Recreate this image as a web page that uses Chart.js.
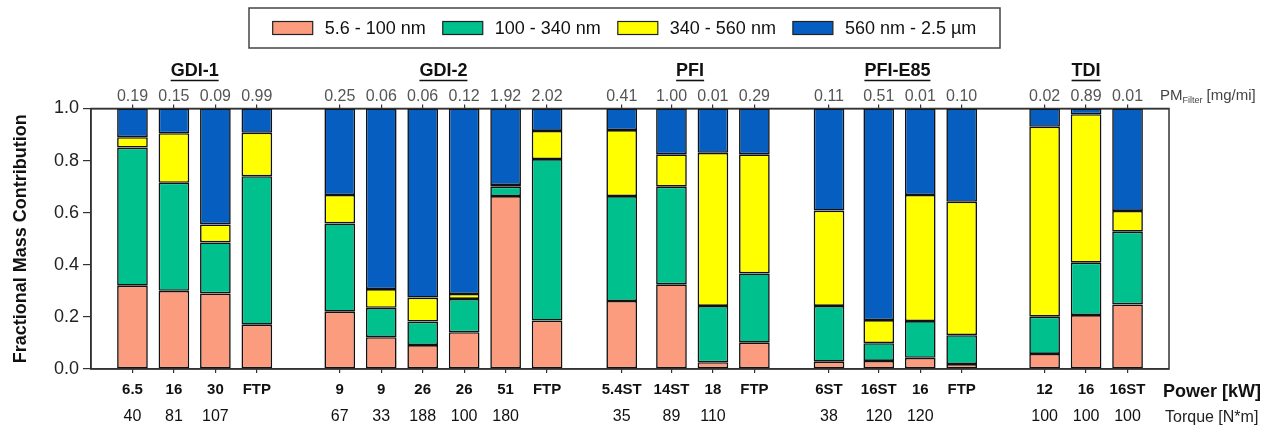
<!DOCTYPE html>
<html>
<head>
<meta charset="utf-8">
<script src="https://cdn.jsdelivr.net/npm/chart.js@4.4.1/dist/chart.umd.min.js"></script>
<style>
  html, body { margin: 0; padding: 0; background: #fff; }
  canvas { display: block; }
</style>
</head>
<body>
<canvas id="c" width="1282" height="428"></canvas>
<script>
// ---- data ----
const groups = ['GDI-1', 'GDI-2', 'PFI', 'PFI-E85', 'TDI'];
const groupSizes = [4, 6, 4, 4, 3];
const positions = [0, 1, 2, 3, 5, 6, 7, 8, 9, 10, 11.8, 13, 14, 15, 16.8, 18, 19, 20, 22, 23, 24];
const powerLabels = ['6.5', '16', '30', 'FTP', '9', '9', '26', '26', '51', 'FTP', '5.4ST', '14ST', '18', 'FTP', '6ST', '16ST', '16', 'FTP', '12', '16', '16ST'];
const torqueLabels = ['40', '81', '107', '', '67', '33', '188', '100', '180', '', '35', '89', '110', '', '38', '120', '120', '', '100', '100', '100'];
const pmFilter = ['0.19', '0.15', '0.09', '0.99', '0.25', '0.06', '0.06', '0.12', '1.92', '2.02', '0.41', '1.00', '0.01', '0.29', '0.11', '0.51', '0.01', '0.10', '0.02', '0.89', '0.01'];
const seriesLabels = ['5.6 - 100 nm', '100 - 340 nm', '340 - 560 nm', '560 nm - 2.5 \u00B5m'];
const ultrafine = [0.32, 0.30, 0.29, 0.17, 0.22, 0.122, 0.092, 0.141, 0.664, 0.186, 0.261, 0.325, 0.026, 0.101, 0.028, 0.031, 0.043, 0.019, 0.058, 0.207, 0.248];
const fine = [0.53, 0.415, 0.196, 0.57, 0.339, 0.113, 0.09, 0.128, 0.036, 0.62, 0.403, 0.375, 0.216, 0.266, 0.214, 0.068, 0.141, 0.111, 0.143, 0.201, 0.279];
const accumulation = [0.04, 0.19, 0.069, 0.167, 0.109, 0.072, 0.092, 0.019, 0.006, 0.108, 0.253, 0.124, 0.588, 0.457, 0.366, 0.089, 0.484, 0.512, 0.729, 0.570, 0.08];
const coarse = [0.11, 0.095, 0.445, 0.093, 0.332, 0.693, 0.726, 0.712, 0.294, 0.086, 0.083, 0.176, 0.17, 0.176, 0.392, 0.812, 0.332, 0.358, 0.07, 0.022, 0.393];
const yTicks = [0, 0.2, 0.4, 0.6, 0.8, 1.0];

// ---- styles ----
const FONT = '"Liberation Sans", Arial, Helvetica, sans-serif';
const colors = ['#FC9C7E', '#00C08E', '#FFFF00', '#065EC0'];
const seriesData = [ultrafine, fine, accumulation, coarse];

const datasets = seriesData.map((arr, k) => ({
  label: seriesLabels[k],
  data: positions.map((x, i) => ({ x: x, y: arr[i] })),
  backgroundColor: colors[k],
  borderColor: '#111',
  borderWidth: 1.6,
  borderSkipped: false,
  barPercentage: 0.74,
  categoryPercentage: 1.0,
  xAxisID: 'x',
  yAxisID: 'y'
}));

const setTicks = (scale) => { scale.ticks = positions.map(v => ({ value: v })); };

const textPlugin = {
  id: 'texts',
  beforeDraw(chart) {
    const ctx = chart.ctx;
    ctx.save();
    ctx.fillStyle = '#fff';
    ctx.fillRect(0, 0, chart.width, chart.height);
    ctx.restore();
  },
  afterDraw(chart) {
    const ctx = chart.ctx;
    const xs = chart.scales.x;
    const area = chart.chartArea;
    ctx.save();
    // frame
    ctx.strokeStyle = '#333';
    ctx.lineWidth = 1.5;
    ctx.strokeRect(area.left, area.top, area.right - area.left, area.bottom - area.top);

    ctx.textAlign = 'center';
    ctx.textBaseline = 'middle';
    // per-bar labels
    positions.forEach((p, i) => {
      const px = xs.getPixelForValue(p);
      ctx.fillStyle = '#555';
      ctx.font = '16px ' + FONT;
      ctx.fillText(pmFilter[i], px, area.top - 12);
      ctx.fillStyle = '#111';
      ctx.font = 'bold 15px ' + FONT;
      ctx.fillText(powerLabels[i], px, area.bottom + 21);
      ctx.font = '16px ' + FONT;
      ctx.fillText(torqueLabels[i], px, area.bottom + 48);
    });
    // group titles
    let start = 0;
    groups.forEach((g, gi) => {
      const members = positions.slice(start, start + groupSizes[gi]);
      start += groupSizes[gi];
      const mean = members.reduce((a, b) => a + b, 0) / members.length;
      const cx = xs.getPixelForValue(mean);
      ctx.font = 'bold 18px ' + FONT;
      ctx.fillStyle = '#111';
      ctx.fillText(g, cx, area.top - 37);
      const w = ctx.measureText(g).width;
      ctx.strokeStyle = '#111';
      ctx.lineWidth = 1.6;
      ctx.beginPath();
      ctx.moveTo(cx - w / 2, area.top - 28);
      ctx.lineTo(cx + w / 2, area.top - 28);
      ctx.stroke();
    });
    // right side labels
    ctx.textAlign = 'left';
    const rx = area.right - 9;
    ctx.fillStyle = '#444';
    ctx.font = '15px ' + FONT;
    ctx.fillText('PM', rx, area.top - 13);
    let wx = rx + ctx.measureText('PM').width;
    ctx.font = '9px ' + FONT;
    ctx.fillText('Filter', wx, area.top - 8);
    wx += ctx.measureText('Filter').width + 4;
    ctx.font = '15px ' + FONT;
    ctx.fillText('[mg/mi]', wx, area.top - 13);

    ctx.fillStyle = '#111';
    ctx.font = 'bold 18px ' + FONT;
    ctx.fillText('Power [kW]', area.right - 6, area.bottom + 23);
    ctx.font = '16px ' + FONT;
    ctx.fillStyle = '#222';
    ctx.fillText('Torque [N*m]', area.right - 4, area.bottom + 49);

    // y title
    ctx.save();
    ctx.translate(21, (area.top + area.bottom) / 2);
    ctx.rotate(-Math.PI / 2);
    ctx.textAlign = 'center';
    ctx.font = 'bold 18px ' + FONT;
    ctx.fillStyle = '#111';
    ctx.fillText('Fractional Mass Contribution', 0, 0);
    ctx.restore();

    // legend
    const boxL = 249, boxR = 1000, boxT = 8, boxB = 48;
    ctx.strokeStyle = '#444';
    ctx.lineWidth = 1.5;
    ctx.strokeRect(boxL, boxT, boxR - boxL, boxB - boxT);
    ctx.font = '18px ' + FONT;
    const sw = 40, sh = 13, gapT = 12, gapI = 17;
    const widths = chart.data.datasets.map(d => ctx.measureText(d.label).width);
    const total = widths.reduce((a, b) => a + b, 0) + 4 * (sw + gapT) + 3 * gapI;
    let lx = (boxL + boxR) / 2 - total / 2;
    const cy = (boxT + boxB) / 2;
    chart.data.datasets.forEach((d, k) => {
      ctx.fillStyle = d.backgroundColor;
      ctx.fillRect(lx, cy - sh / 2, sw, sh);
      ctx.strokeStyle = '#222';
      ctx.lineWidth = 1.2;
      ctx.strokeRect(lx, cy - sh / 2, sw, sh);
      lx += sw + gapT;
      ctx.fillStyle = '#111';
      ctx.textBaseline = 'middle';
      ctx.fillText(d.label, lx, cy + 1);
      lx += widths[k] + gapI;
    });
    ctx.restore();
  }
};

new Chart(document.getElementById('c'), {
  type: 'bar',
  data: { datasets: datasets },
  options: {
    responsive: false,
    devicePixelRatio: 1,
    animation: false,
    layout: { padding: { left: 0, right: 113, top: 0, bottom: 0 } },
    plugins: { legend: { display: false }, tooltip: { enabled: false } },
    scales: {
      x: {
        type: 'linear', position: 'bottom', stacked: true, offset: false,
        min: -1, max: 25,
        afterBuildTicks: setTicks,
        afterFit: (s) => { s.height = 59; },
        ticks: { display: false },
        grid: { drawOnChartArea: false, offset: false, tickLength: 4, color: '#333', lineWidth: 1.2 },
        border: { display: true, color: '#333', width: 1.5 }
      },
      xTop: {
        type: 'linear', position: 'top', offset: false,
        min: -1, max: 25,
        afterBuildTicks: setTicks,
        afterFit: (s) => { s.height = 108.5; },
        ticks: { display: false },
        grid: { drawOnChartArea: false, offset: false, tickLength: 4, color: '#333', lineWidth: 1.2 },
        border: { display: true, color: '#333', width: 1.5 }
      },
      y: {
        type: 'linear', position: 'left', stacked: true,
        min: 0, max: 1,
        afterBuildTicks: (s) => { s.ticks = yTicks.map(v => ({ value: v })); },
        afterFit: (s) => { s.width = 91; },
        ticks: {
          callback: (v) => Number(v).toFixed(1),
          font: { family: FONT, size: 18 },
          color: '#222',
          padding: 4
        },
        grid: { drawOnChartArea: false, tickLength: 8, color: '#333', lineWidth: 1.2 },
        border: { display: true, color: '#333', width: 1.5 }
      }
    }
  },
  plugins: [textPlugin]
});
</script>
</body>
</html>
